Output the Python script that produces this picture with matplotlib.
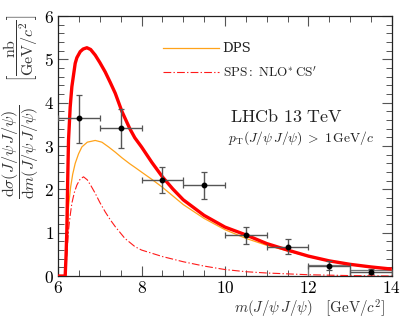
import matplotlib
matplotlib.use("Agg")
import matplotlib.pyplot as plt
from matplotlib.ticker import MultipleLocator
from matplotlib.patches import Rectangle

plt.rcParams['mathtext.fontset'] = 'cm'
plt.rcParams['font.family'] = ['DejaVu Serif']

# Data points (LHCb 13 TeV)
m_centers = [6.5, 7.5, 8.5, 9.5, 10.5, 11.5, 12.5, 13.5]
m_halfwidth = [0.5, 0.5, 0.5, 0.5, 0.5, 0.5, 0.5, 0.5]
xsec = [3.64, 3.41, 2.21, 2.09, 0.95, 0.68, 0.24, 0.10]
err_up = [0.55, 0.44, 0.30, 0.32, 0.19, 0.17, 0.10, 0.06]
err_dn = [0.56, 0.46, 0.30, 0.32, 0.20, 0.17, 0.10, 0.06]

# Bins drawn as boxes at high mass
box_lo = [12.0, 13.0]
box_hi = [13.0, 14.0]
box_top = [0.26, 0.13]

# Tick labels
x_ticks = [6, 8, 10, 12, 14]
y_ticks = [0, 1, 2, 3, 4, 5, 6]

# Total (DPS + SPS)
x_tot = [6.0, 6.17, 6.19, 6.21, 6.23, 6.25, 6.29, 6.33, 6.41, 6.45, 6.53, 6.6, 6.69,
         6.78, 6.89, 7.0, 7.13, 7.25, 7.37, 7.53, 7.72, 7.84, 8.0, 8.25, 8.5, 8.75,
         9.0, 9.5, 10.0, 10.5, 11.0, 11.5, 12.0, 12.5, 13.0, 13.5, 14.0]
y_tot = [0.0, 0.0, 0.45, 1.06, 2.2, 3.14, 3.9, 4.37, 4.91, 5.04, 5.18, 5.24, 5.27,
         5.23, 5.10, 4.93, 4.71, 4.47, 4.22, 3.80, 3.40, 3.19, 2.98, 2.62, 2.29, 2.01,
         1.76, 1.40, 1.13, 0.95, 0.75, 0.60, 0.46, 0.35, 0.27, 0.21, 0.16]

# DPS
x_dps = [6.0, 6.19, 6.2, 6.22, 6.25, 6.3, 6.35, 6.41, 6.49, 6.57, 6.7, 6.89, 7.05,
         7.21, 7.37, 7.53, 7.72, 7.84, 8.0, 8.25, 8.5, 8.75, 9.0, 9.5, 10.0, 10.5,
         11.0, 11.5, 12.0, 12.5, 13.0, 13.5, 14.0]
y_dps = [0.0, 0.0, 0.5, 1.0, 1.6, 2.05, 2.35, 2.6, 2.82, 2.98, 3.09, 3.13, 3.09,
         2.98, 2.86, 2.73, 2.59, 2.51, 2.40, 2.23, 2.05, 1.85, 1.65, 1.33, 1.07, 0.87,
         0.71, 0.58, 0.45, 0.34, 0.26, 0.20, 0.15]

# SPS: NLO* CS'
x_sps = [6.0, 6.18, 6.21, 6.25, 6.29, 6.33, 6.39, 6.45, 6.53, 6.61, 6.7, 6.79, 6.89,
         7.0, 7.13, 7.25, 7.37, 7.6, 7.84, 8.0, 8.5, 9.0, 9.5, 10.0, 10.5, 11.0,
         11.5, 12.0, 13.0, 14.0]
y_sps = [0.0, 0.0, 0.5, 1.06, 1.4, 1.68, 1.93, 2.10, 2.24, 2.29, 2.22, 2.08, 1.91,
         1.70, 1.48, 1.30, 1.14, 0.87, 0.68, 0.60, 0.45, 0.33, 0.23, 0.15, 0.10, 0.07,
         0.05, 0.03, 0.01, 0.0]

fig = plt.figure(figsize=(4.12, 3.29), dpi=100)
ax = fig.add_axes([0.141, 0.161, 0.81, 0.79])

ax.plot(x_dps, y_dps, color='#FFA31A', lw=0.9, label='DPS', zorder=3)
ax.plot(x_sps, y_sps, color='#FF1A1A', lw=0.8, linestyle=(0, (7, 2, 1.2, 2)),
        label=r"$\mathrm{SPS{:}\ NLO}^{\ast}\,\mathrm{CS}^{\prime}$", zorder=3)
ax.plot(x_tot, y_tot, color='#FF0000', lw=2.4, zorder=4, solid_capstyle='butt')

for lo, hi, top in zip(box_lo, box_hi, box_top):
    ax.add_patch(Rectangle((lo, 0), hi - lo, top, fill=False, edgecolor='#777777',
                           lw=0.9, zorder=2))

ax.errorbar(m_centers, xsec, xerr=m_halfwidth, yerr=[err_dn, err_up], fmt='o',
            color='black', ms=3.2, ecolor='#555555', elinewidth=1.0, capsize=2.2,
            capthick=0.9, zorder=5)

ax.set_xticks(x_ticks)
ax.set_xticklabels([r'$%d$' % v for v in x_ticks])
ax.set_yticks(y_ticks)
ax.set_yticklabels([r'$%d$' % v for v in y_ticks])
ax.xaxis.set_minor_locator(MultipleLocator(0.5))
ax.yaxis.set_minor_locator(MultipleLocator(0.2))
ax.set_xlim(6, 14)
ax.set_ylim(0, 6)
ax.tick_params(which='both', direction='in', top=True, right=True, color='#555555')
ax.tick_params(which='major', length=7, width=0.8, labelsize=12.5, pad=3)
ax.tick_params(which='minor', length=4, width=0.7)
for s in ax.spines.values():
    s.set_linewidth(0.9)
    s.set_color('#222222')

leg = ax.legend(loc='upper left', bbox_to_anchor=(0.295, 0.925), frameon=False,
                fontsize=9.5, handlelength=4.2, handletextpad=0.3, borderpad=0,
                labelspacing=0.75)
for t in leg.get_texts():
    t.set_color('#222222')

ax.text(0.515, 0.61, r'$\mathrm{LHCb\ 13\ TeV}$', transform=ax.transAxes,
        fontsize=13, va='center', ha='left', color='#222222')
ax.text(0.508, 0.53, r'$p_{\mathrm{T}}(J/\psi\,J/\psi)\;>\;1\,\mathrm{GeV}/c$',
        transform=ax.transAxes, fontsize=9.8, va='center', ha='left', color='#222222')

fig.text(385 / 412, 1 - 309 / 329, r'$m(J/\psi\,J/\psi)\quad\left[\mathrm{GeV}/c^{2}\right]$',
         ha='right', va='center', fontsize=10.8, color='#333333')
fig.text(21 / 412, 1 - 152 / 329,
         r'$\dfrac{\mathrm{d}\sigma(J/\psi\,J/\psi)}{\mathrm{d}m(J/\psi\,J/\psi)}$',
         rotation=90, ha='center', va='center', fontsize=11.5, color='#333333')
fig.text(21 / 412, 1 - 48 / 329, r'$\left[\dfrac{\mathrm{nb}}{\mathrm{GeV}/c^{2}}\right]$',
         rotation=90, ha='center', va='center', fontsize=11.5, color='#333333')

fig.savefig('out.png', dpi=100)
